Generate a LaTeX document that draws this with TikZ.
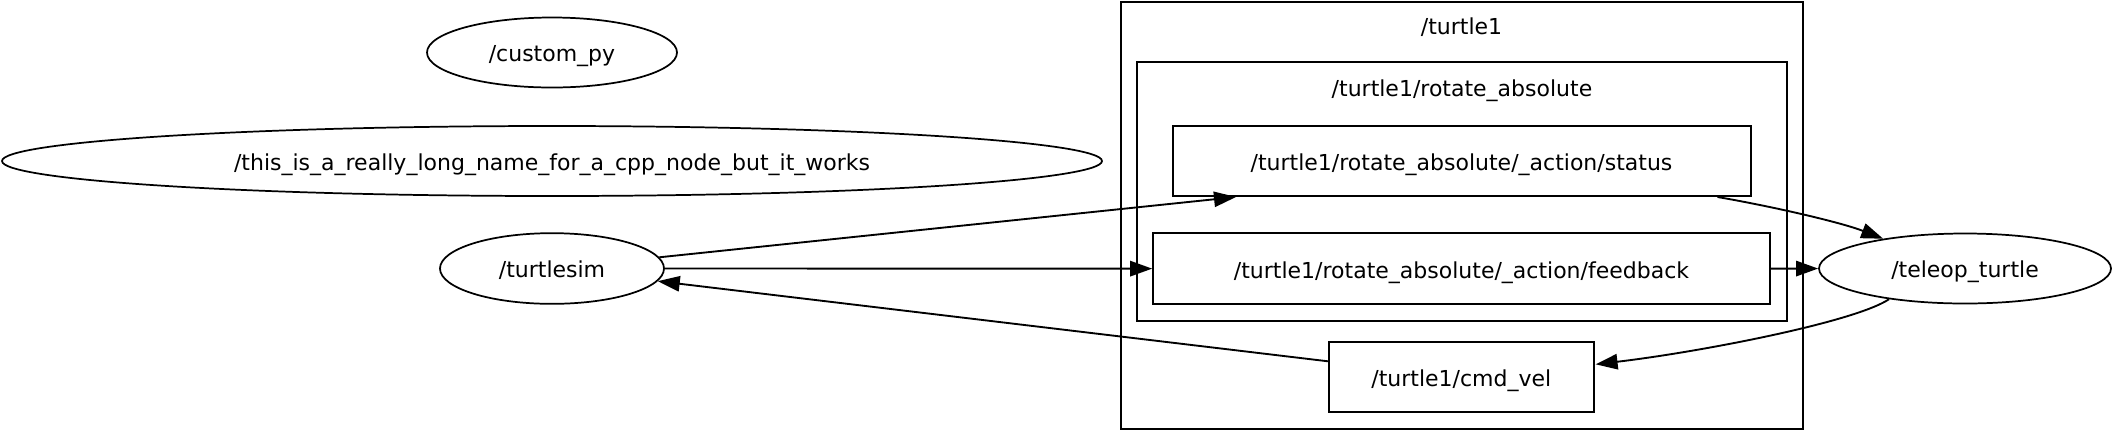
\documentclass[tikz,border=0pt]{standalone}
\usepackage{fontspec}
\setmainfont{DejaVu Sans}
\usetikzlibrary{shapes.geometric,arrows.meta,calc}

\begin{document}
\begin{tikzpicture}[x=0.75pt,y=0.75pt,yscale=-1,xscale=1,
  rosfont/.style={font=\fontsize{16.5}{20}\selectfont,text height=16pt,text depth=2pt},
  rosnode/.style={draw,ellipse,rosfont,inner sep=0pt,minimum height=52.5pt,line width=1.3pt},
  rostopic/.style={draw,rectangle,rosfont,inner sep=0pt,minimum height=53pt,line width=1.5pt},
  rosgroup/.style={draw,line width=1.5pt},
  rosedge/.style={line width=1.4pt,-{Triangle[length=16.5pt,width=11.5pt]}}]
\useasboundingbox (0,0) rectangle (2113,430);

%Shape: Cluster /turtle1
\draw [rosgroup] (1121,1.5) rectangle (1802.5,428.5);
%Shape: Cluster /turtle1/rotate_absolute
\draw [rosgroup] (1137,62) rectangle (1787,321);

% Text Node
\node [rosfont] (turtlegrp) at (1461.5,25) {/turtle1};
% Text Node
\node [rosfont] (rotategrp) at (1462,87) {/turtle1/rotate\_absolute};

%Shape: Ellipse (nodes)
\node [rosnode,minimum width=187.5pt] (custompy) at (552,52.5) {/custom\_py};
\node [rosnode,minimum width=825pt] (longname) at (552,161) {/this\_is\_a\_really\_long\_name\_for\_a\_cpp\_node\_but\_it\_works};
\node [rosnode,minimum width=168pt,minimum height=53pt] (turtlesim) at (552,268.5) {/turtlesim};
\node [rosnode,minimum width=219pt] (teleop) at (1965,268.5) {/teleop\_turtle};

%Shape: Rectangle (topics)
\node [rostopic,minimum width=433.5pt,minimum height=52.5pt] (status) at (1461.5,161) {/turtle1/rotate\_absolute/\_action/status};
\node [rostopic,minimum width=462.5pt] (feedback) at (1461.5,268.7) {/turtle1/rotate\_absolute/\_action/feedback};
\node [rostopic,minimum width=198.4pt,minimum height=52.7pt] (cmdvel) at (1461.3,376.8) {/turtle1/cmd\_vel};

% Connectors
\draw [rosedge] (turtlesim) -- ($(status.south west)+(64.5,0)$);
\draw [rosedge] (turtlesim) -- (feedback);
\draw [rosedge] (feedback) -- (teleop);
\draw [rosedge] ($(status.south west)+(546,0)$) .. controls (1770,206) and (1840,222) .. (teleop.160);
\draw [rosedge] (teleop.202) .. controls (1855,322) and (1700,352) .. ($(cmdvel.east)+(1,-12.5)$);
\draw [rosedge] ($(cmdvel.west)+(0,-15.5)$) -- (turtlesim);
\end{tikzpicture}
\end{document}
